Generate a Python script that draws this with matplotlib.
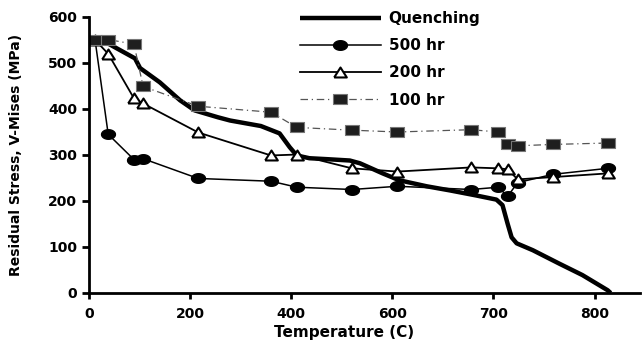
import numpy as np
import matplotlib
matplotlib.use('Agg')
import matplotlib.pyplot as plt

# dados
temps = [12, 38, 89, 107, 216, 360, 411, 520, 605, 678, 705, 714, 724, 759, 813]
stress_500 = [550, 345, 290, 292, 249, 243, 230, 225, 232, 225, 230, 210, 240, 258, 271]
stress_200 = [550, 520, 423, 412, 349, 299, 301, 271, 264, 273, 271, 269, 247, 252, 260]
stress_100 = [551, 551, 541, 449, 406, 393, 360, 354, 350, 355, 350, 323, 320, 323, 326]

quench_temp = [12, 35, 91, 101, 140, 180, 209, 255, 279, 340, 377, 397, 411, 436, 470,
               516, 536, 581, 607, 634, 657, 683, 703, 709, 714, 718, 723, 739, 765,
               788, 813, 816]
quench_stress = [549, 544, 510, 489, 458, 419, 397, 382, 375, 363, 347, 317, 299, 293,
                 291, 288, 282, 260, 245, 232, 223, 212, 203, 191, 151, 121, 108, 93,
                 64, 39, 6, 0]

x_ticks = [0, 200, 400, 600, 700, 800]
y_ticks = [0, 100, 200, 300, 400, 500, 600]

# eixo x do original: marcas igualmente espacadas
tick_ref = [0, 200, 400, 600, 700, 800, 900]
tick_pos = [0, 1, 2, 3, 4, 5, 6]


def fwd(x):
    return np.interp(x, tick_ref, tick_pos)


def inv(p):
    return np.interp(p, tick_pos, tick_ref)


# marcadores achatados como no original
ang = np.linspace(0, 2 * np.pi, 40)
m_circ = np.column_stack([1.45 * np.cos(ang), np.sin(ang)])
m_tri = [(-1.27, -1), (1.27, -1), (0, 1), (-1.27, -1)]
m_sq = [(-1.5, -1), (1.5, -1), (1.5, 1), (-1.5, 1), (-1.5, -1)]

plt.rcParams['font.family'] = 'DejaVu Sans'
plt.rcParams['font.weight'] = 'bold'

fig = plt.figure(figsize=(6.44, 3.49), dpi=100)
ax = fig.add_axes([89 / 644, 56 / 349, 551 / 644, 276 / 349])
ax.set_xscale('function', functions=(fwd, inv))

ax.plot(quench_temp, quench_stress, color='black', lw=3.2, label='Quenching',
        solid_capstyle='butt')
ax.plot(temps, stress_500, color='black', lw=1.1, marker=m_circ, ms=10,
        mfc='black', mec='black', label='500 hr')
ax.plot(temps, stress_200, color='black', lw=1.3, marker=m_tri, ms=9.1,
        mfc='white', mec='black', mew=1.5, label='200 hr')
ax.plot(temps, stress_100, color='#555555', lw=0.9, ls=(0, (6, 3, 1, 3)),
        marker=m_sq, ms=10, mfc='#1e1e1e', mec='#777777', mew=0.8, label='100 hr')

ax.set_xlim(0, 845)
ax.set_ylim(0, 600)
ax.set_xticks(x_ticks)
ax.set_xticklabels([str(t) for t in x_ticks])
ax.set_yticks(y_ticks)

for s in ['top', 'right']:
    ax.spines[s].set_visible(False)
for s in ['left', 'bottom']:
    ax.spines[s].set_linewidth(2)
ax.tick_params(axis='both', width=2, length=5, labelsize=10, direction='out')
ax.tick_params(axis='x', length=4, pad=6)

ax.set_xlabel('Temperature (C)', fontsize=11, fontweight='bold')
ax.xaxis.set_label_coords((344 - 89) / 551, -0.115)
ax.set_ylabel('Residual Stress, V-Mises (MPa)', fontsize=10, fontweight='bold')
ax.yaxis.set_label_coords(-0.12, 0.5)

ax.legend(loc='upper left', bbox_to_anchor=(300 / 644, 1 - 11 / 349),
          bbox_transform=fig.transFigure, frameon=False, fontsize=11,
          handlelength=5.3, handletextpad=0.5, labelspacing=0.8,
          borderpad=0, borderaxespad=0, numpoints=1)

fig.savefig('out.png', dpi=100)
